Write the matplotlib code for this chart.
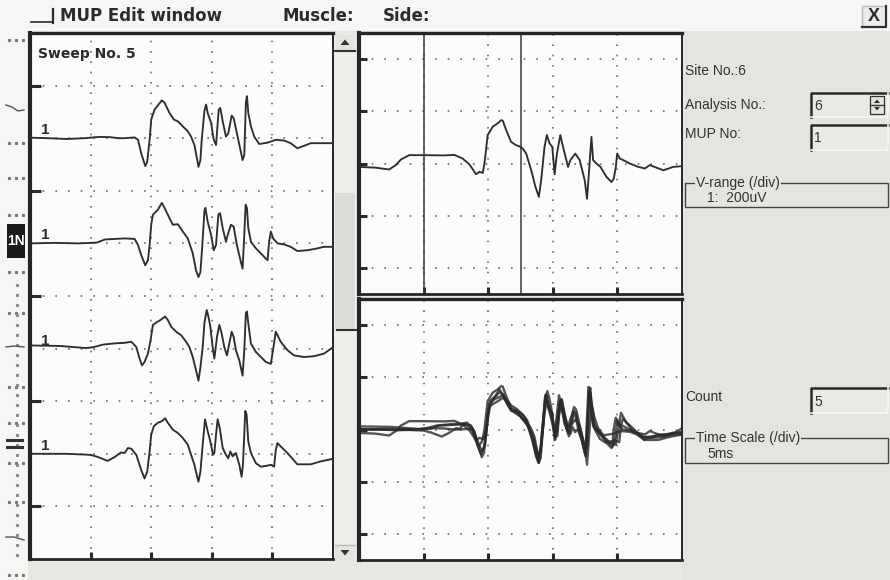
import matplotlib
matplotlib.use('Agg')
import matplotlib.pyplot as plt
from matplotlib.patches import Rectangle, Polygon

# ------------------------------------------------------------------ data
sweep1_ms = [0.0, 1.5, 3.0, 4.5, 5.7, 6.6, 7.3, 7.81, 8.63, 8.91, 9.18, 9.51, 9.67, 9.87, 10.00, 10.28,
             10.88, 11.10, 11.51, 11.87, 12.20, 12.61, 13.02, 13.29, 13.57, 13.90, 14.06, 14.17, 14.39,
             14.53, 14.66, 14.94, 15.16, 15.35, 15.57, 15.70, 15.90, 16.17, 16.36, 16.64, 16.80, 17.13,
             17.54, 17.68, 17.81, 17.90, 18.01, 18.23, 18.50, 18.91, 19.60, 20.28, 20.97, 21.51, 22.06,
             22.61, 23.16, 25.0]
sweep1_uv = [2, 0, -3, 0, 5, 4, 0, 0, 3, -6, -58, -106, -90, -6, 71, 109,
             144, 135, 96, 71, 64, 45, 26, 6, -26, -109, -83, -6, 103,
             128, 96, 58, -6, -26, 109, 115, 64, 6, 19, 86, 77, 6,
             -83, -64, 135, 160, 96, 45, 6, -22, -17, -6, -9, -19, -38,
             -29, -19, -19]

sweep2_ms = [0, 2, 4, 5.5, 6.2, 7.0, 7.81, 8.63, 8.91, 9.18, 9.51, 9.73, 9.87, 10.00, 10.14, 10.55,
             10.88, 11.10, 11.51, 11.78, 12.20, 12.61, 13.02, 13.43, 13.70, 13.90, 14.06, 14.20, 14.39,
             14.47, 14.66, 14.94, 15.16, 15.35, 15.54, 15.68, 15.90, 16.17, 16.31, 16.58, 16.80, 17.07,
             17.40, 17.54, 17.68, 17.79, 17.90, 18.01, 18.23, 18.64, 19.05, 19.46, 19.60, 19.73, 19.87,
             20.06, 20.42, 20.97, 21.51, 22.06, 22.89, 23.71, 24.26, 25.0]
sweep2_uv = [0, 2, 0, 3, 15, 17, 19, 17, -6, -45, -83, -64, -6, 71, 109, 128,
             154, 135, 96, 71, 73, 45, 19, -38, -103, -128, -109, -19, 122,
             135, 83, 32, -26, -6, 109, 115, 58, 6, 32, 71, 64, -6,
             -71, -96, 32, 147, 135, 58, 6, -19, -38, -58, -64, 6, 45,
             19, 0, -4, -13, -29, -26, -19, -13, -13]

sweep3_ms = [0, 2.5, 4.6, 5.2, 6.0, 7.0, 7.81, 8.36, 8.77, 9.04, 9.24, 9.45, 9.73, 9.95, 10.14, 10.41,
             10.77, 11.15, 11.37, 11.65, 12.06, 12.47, 12.88, 13.15, 13.43, 13.70, 13.90, 14.06, 14.25,
             14.39, 14.58, 14.72, 14.88, 15.07, 15.21, 15.43, 15.62, 15.81, 16.03, 16.25, 16.44, 16.64,
             16.80, 16.99, 17.27, 17.54, 17.68, 17.81, 17.90, 18.01, 18.23, 18.64, 19.05, 19.46, 19.87,
             20.09, 20.28, 20.42, 20.69, 21.24, 21.79, 22.61, 23.43, 24.26, 25.0]
sweep3_uv = [12, 10, 2, 5, 15, 20, 22, 26, 6, -38, -64, -51, -19, 32, 90, 99,
             109, 122, 109, 83, 64, 51, 26, 6, -32, -83, -122, -71, 6,
             96, 147, 122, 83, 6, -38, 45, 90, 58, 6, -26, 19, 64,
             45, -6, -45, -103, -6, 135, 141, 96, 19, -13, -32, -51, -58,
             6, 64, 51, 26, -6, -26, -32, -29, -19, 5]

sweep4_ms = [0, 3.0, 5.0, 5.6, 6.4, 7.0, 7.5, 7.81, 8.08, 8.36, 8.77, 9.18, 9.45, 9.67, 9.87, 10.00,
             10.22, 10.55, 10.88, 11.15, 11.37, 11.78, 12.20, 12.61, 13.02, 13.29, 13.57, 13.79, 13.90,
             14.06, 14.25, 14.44, 14.66, 14.88, 15.10, 15.21, 15.35, 15.48, 15.65, 15.90, 16.17, 16.36,
             16.53, 16.72, 16.99, 17.27, 17.46, 17.57, 17.68, 17.76, 17.87, 18.01, 18.23, 18.64, 19.05,
             19.46, 19.87, 20.14, 20.28, 20.42, 20.69, 21.24, 22.06, 23.16, 23.98, 25.0]
sweep4_uv = [0, 0, -4, -12, -27, -12, 5, 3, 22, 19, -4, -62, -94, -68, 9, 73,
             105, 118, 124, 135, 118, 92, 79, 60, 35, -4, -42, -87, -106,
             -68, 35, 131, 86, 47, -4, 3, 73, 131, 99, 22, -4, -17,
             9, -10, 3, -42, -87, -42, 73, 163, 150, 47, 3, -36, -49,
             -46, -42, -49, 15, 41, 28, 3, -40, -40, -29, -19]

sweep5_ms = [0.0, 1.29, 2.33, 2.85, 3.24, 3.88, 4.92, 6.60, 7.38, 8.02, 8.54, 9.06, 9.32, 9.58, 9.71,
             9.96, 10.35, 10.74, 11.00, 11.13, 11.39, 11.77, 12.16, 12.42, 12.68, 12.94, 13.33, 13.66,
             13.92, 14.10, 14.36, 14.54, 14.75, 14.96, 15.14, 15.32, 15.58, 15.79, 16.18, 16.36, 16.74,
             17.08, 17.47, 17.65, 17.81, 17.99, 18.12, 18.37, 18.69, 19.15, 19.54, 19.72, 19.88, 19.98,
             20.19, 20.45, 20.96, 21.61, 22.13, 22.51, 23.03, 23.55, 24.33, 25.0]
sweep5_uv = [-13, -16, -23, -6, 15, 32, 32, 31, 33, 19, -3, -41, -32, -36, 0,
             109, 141, 154, 166, 164, 128, 83, 70, 66, 57, 38, -26, -90,
             -128, -64, 64, 109, 77, 64, -41, 38, 109, 64, -13, 13, 38,
             13, -64, -135, -26, 102, 13, 0, -13, -51, -71, -58, -13, 38,
             19, 13, 0, -13, -19, -6, -16, -26, -13, -10]

left_sweeps = [(sweep1_ms, sweep1_uv), (sweep2_ms, sweep2_uv),
               (sweep3_ms, sweep3_uv), (sweep4_ms, sweep4_uv)]
all_sweeps = left_sweeps + [(sweep5_ms, sweep5_uv)]
sweep_offsets_uv = [-400, -800, -1200, -1600]
sweep_labels = ['1', '1', '1', '1']
cursor_ms = [5.0, 12.5]
time_div_ms = 5
volt_div_uv = 200

title = 'MUP Edit window'
sweep_title = 'Sweep No. 5'
site_text = 'Site No.:6'
analysis_no = '6'
mup_no = '1'
count_no = '5'
vrange_text = '1:  200uV'
tscale_text = '5ms'

# ------------------------------------------------------------------ figure
W, H, DPI = 890, 580, 100
INK = '#2b2b2b'
FONT = 'Liberation Sans'
BOLD = 'DejaVu Sans'
PANEL = '#e6e4e0'

fig = plt.figure(figsize=(W / DPI, H / DPI), dpi=DPI)
fig.patch.set_facecolor('#e9e7e3')

bg = fig.add_axes([0, 0, 1, 1])
bg.set_xlim(0, W)
bg.set_ylim(H, 0)
bg.axis('off')

# background areas
bg.add_patch(Rectangle((0, 0), W, 31, fc='#f6f6f4', ec='none'))
bg.add_patch(Rectangle((0, 0), 28, H, fc='#f6f6f4', ec='none'))
bg.add_patch(Rectangle((682, 31), W - 682, H - 31, fc=PANEL, ec='none'))

# remnants of the window behind (left strip)
for yy in [40, 143, 178, 215, 272, 313, 387, 423, 463, 502, 575]:
    bg.plot([9, 16, 23], [yy] * 3, ls='none', marker='s', ms=1.3, color='#777')
bg.plot([17] * 28, [285 + 10 * i for i in range(28)], ls='none', marker='s', ms=1.2, color='#888')
bg.plot([6, 12, 18, 24], [105, 107, 111, 110], color='#555', lw=1.0)
bg.plot([6, 14, 24], [347, 346, 347], color='#555', lw=1.0)
bg.plot([6, 14, 24], [537, 537, 540], color='#555', lw=1.0)
bg.add_patch(Rectangle((7, 224), 18, 34, fc='#1a1a1a', ec='none'))
bg.text(16, 241, '1N', color='white', fontsize=10, fontweight='bold', ha='center', va='center', family=FONT)
bg.plot([7, 22], [440, 440], color='#333', lw=2.2)
bg.plot([7, 22], [447, 447], color='#333', lw=2.2)

# title bar
bg.plot([31, 52], [22, 22], color=INK, lw=1.2)
bg.plot([53, 53], [9, 23], color=INK, lw=1.6)
bg.text(60, 16, title, fontsize=12, fontweight='bold', color=INK, va='center', family=BOLD)
bg.text(283, 16, 'Muscle:', fontsize=12, fontweight='bold', color=INK, va='center', family=BOLD)
bg.text(383, 16, 'Side:', fontsize=12, fontweight='bold', color=INK, va='center', family=BOLD)
bg.add_patch(Rectangle((862, 6), 25, 21, fc='#eeece9', ec='none'))
bg.plot([862, 862, 886], [27, 6, 6], color='#bbb', lw=1.0)
bg.plot([886, 886, 862], [6, 27, 27], color='#333', lw=1.6)
bg.text(874, 16.5, 'X', fontsize=13, fontweight='bold', color=INK, ha='center', va='center', family=FONT)

# scrollbar
bg.add_patch(Rectangle((333, 33), 24, 527, fc='#eeedea', ec='none'))
bg.add_patch(Rectangle((335, 193), 20, 137, fc='#dddbd7', ec='none'))
bg.plot([337, 357], [330, 330], color='#333', lw=1.5)
bg.add_patch(Rectangle((335, 34), 20, 17, fc='#e6e4e0', ec='none'))
bg.plot([335, 355], [51, 51], color='#333', lw=1.5)
bg.add_patch(Polygon([(340.5, 45), (349.5, 45), (345, 39.5)], closed=True, fc='#333', ec='none'))
bg.add_patch(Rectangle((335, 545), 20, 15, fc='#e6e4e0', ec='none'))
bg.plot([335, 355], [545, 545], color='#bbb', lw=1.0)
bg.add_patch(Polygon([(340.5, 550), (349.5, 550), (345, 555.5)], closed=True, fc='#333', ec='none'))

# right information panel
def label(x, y, s, **kw):
    bg.text(x, y, s, fontsize=10, color='#333', va='center', family=FONT, **kw)

def entry(y0, y1, s):
    bg.add_patch(Rectangle((810, y0), 78, y1 - y0, fc='#ebe9e6', ec='none'))
    bg.plot([811, 811, 888], [y1, y0, y0], color='#2a2a2a', lw=1.8)
    bg.plot([811, 888, 888], [y1, y1, y0], color='#f7f7f7', lw=1.2)
    bg.text(814, (y0 + y1) / 2 + 1, s, fontsize=10, color='#333', va='center', family=FONT)

label(685, 71, site_text)
label(685, 105, 'Analysis No.:')
entry(93, 117, analysis_no)
bg.add_patch(Rectangle((870, 96), 14, 18, fc='#e6e4e0', ec='#333', lw=0.9))
bg.plot([870, 884], [105, 105], color='#333', lw=1.0)
bg.add_patch(Polygon([(874, 103), (880, 103), (877, 99.5)], closed=True, fc='#333', ec='none'))
bg.add_patch(Polygon([(874, 107), (880, 107), (877, 110.5)], closed=True, fc='#333', ec='none'))
label(685, 134, 'MUP No:')
entry(125, 150, mup_no)

def group(y0, y1, title_s, value_s):
    bg.add_patch(Rectangle((685, y0), 203, y1 - y0, fc='none', ec='#444', lw=1.0))
    bg.text(696, y0, title_s, fontsize=10, color='#333', va='center', family=FONT,
            bbox=dict(fc=PANEL, ec='none', pad=0.6))
    bg.text(707, y0 + 15.5, value_s, fontsize=10, color='#333', va='center', family=FONT)

group(183, 207, 'V-range (/div)', vrange_text)
label(685, 397, 'Count')
entry(388, 413, count_no)
group(438, 463, 'Time Scale (/div)', tscale_text)

# ------------------------------------------------------------------ plot panels
def px_axes(x0, y0, x1, y1):
    return fig.add_axes([x0 / W, 1 - y1 / H, (x1 - x0) / W, (y1 - y0) / H])

GRID = '#6a6a6a'
TRACE = '#2e2e2e'

def style_panel(ax, ylim, hgrid, yticks, ylen):
    ax.set_facecolor('#fcfcfc')
    ax.set_xlim(0, 5 * time_div_ms)
    ax.set_ylim(*ylim)
    ax.hlines(hgrid, 0, 5 * time_div_ms, colors=GRID, lw=1.2, linestyles=(0, (1, 6.6)), zorder=1)
    vgrid = [time_div_ms * k for k in range(1, 5)]
    ax.vlines(vgrid, ylim[0], ylim[1], colors=GRID, lw=1.2, linestyles=(0, (1, 5.2)), zorder=1)
    ax.set_xticks(vgrid)
    ax.set_yticks(yticks)
    ax.tick_params(direction='in', length=5, width=2.2, color='#2a2a2a',
                   labelleft=False, labelbottom=False, left=True, bottom=True)
    ax.tick_params(axis='y', length=ylen)
    for side, lw in [('left', 3.0), ('top', 2.4), ('right', 1.4), ('bottom', 2.0)]:
        ax.spines[side].set_linewidth(lw)
        ax.spines[side].set_color('#262626')

# left sweeps panel
axL = px_axes(30, 33, 333, 559)
n_div = 10
style_panel(axL, (-n_div * volt_div_uv, 0),
            [-volt_div_uv * k for k in range(1, n_div)],
            [-volt_div_uv * k for k in range(1, n_div, 2)], 8)
for (t, v), off, lab in zip(left_sweeps, sweep_offsets_uv, sweep_labels):
    axL.plot(t, [off + a for a in v], color=TRACE, lw=1.35, zorder=3)
    axL.text(1.25, off + 4, lab, fontsize=11, fontweight='bold', color=INK,
             ha='center', va='bottom', family=FONT, zorder=4)
axL.text(38, 54, sweep_title, transform=bg.transData, fontsize=10, fontweight='bold',
         color=INK, va='center', family=BOLD)

# upper right: selected sweep with cursors
half = 2.5 * volt_div_uv
rgrid = [-2 * volt_div_uv, -volt_div_uv, 0, volt_div_uv, 2 * volt_div_uv]
axU = px_axes(359, 33, 682, 294)
style_panel(axU, (-half, half), rgrid, rgrid, 6)
axU.plot(sweep5_ms, sweep5_uv, color=TRACE, lw=1.35, zorder=3)
for c in cursor_ms:
    axU.axvline(c, color='#3a3a3a', lw=1.1, zorder=2)

# lower right: superimposed sweeps
axD = px_axes(359, 299, 682, 560)
style_panel(axD, (-half, half), rgrid, rgrid, 6)
for t, v in all_sweeps:
    axD.plot(t, v, color='#2a2a2a', lw=1.7, alpha=0.8, zorder=3)

fig.savefig('out.png', dpi=DPI, facecolor=fig.get_facecolor())
